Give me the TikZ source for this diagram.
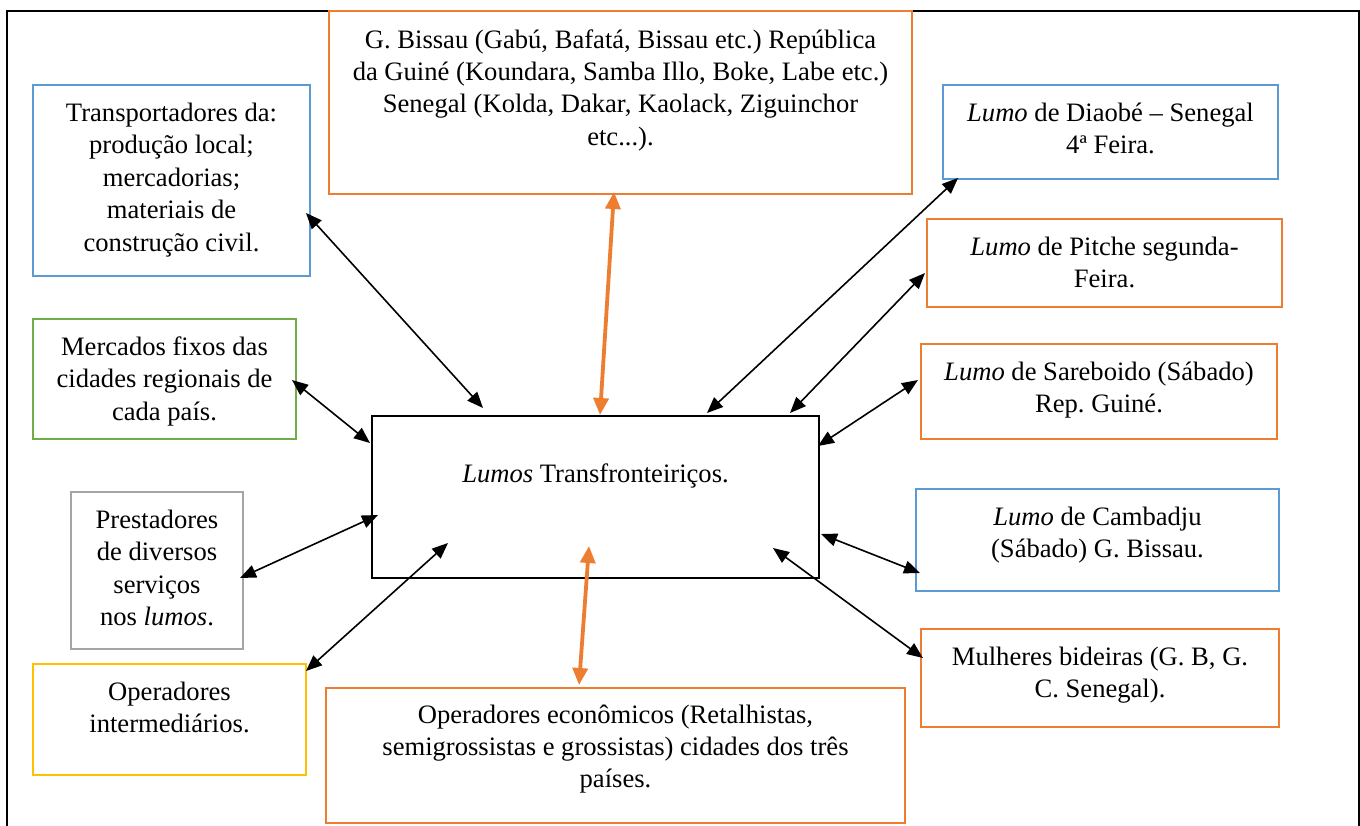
\documentclass[tikz,border=0pt]{standalone}
\usepackage{fontspec}
\setmainfont{Liberation Serif}
\usetikzlibrary{arrows.meta}

\definecolor{officeBlue}{HTML}{5B9BD5}
\definecolor{officeOrange}{HTML}{ED7D31}
\definecolor{officeGreen}{HTML}{70AD47}
\definecolor{officeGray}{HTML}{A5A5A5}
\definecolor{officeGold}{HTML}{FFC000}

% fixed-size cell: width, height, first-baseline depth, text (top aligned, centred)
\newcommand{\cellText}[4]{\parbox[c][#2][t]{#1}{\centering\rule{0pt}{#3}#4\par}}

\tikzset{
  cell/.style={draw=#1, line width=2.2pt, inner sep=0pt, outer sep=0pt,
    anchor=north west, font=\fontsize{26.6}{32.4}\selectfont\frenchspacing},
  hub/.style={cell=black, line width=1.8pt},
  tip/.tip={Triangle[length=16pt,width=13pt]},
  otip/.tip={Triangle[length=17pt,width=15pt]},
  link/.style={tip-tip, line width=1.6pt, draw=black},
  olink/.style={otip-otip, line width=3.8pt, draw=officeOrange},
}

\begin{document}
\begin{tikzpicture}[x=1pt, y=-1pt]
\useasboundingbox (0,0) rectangle (1360,825);

% outer frame (runs past the lower edge)
\draw[line width=1.8pt] (7,830) -- (7,11) -- (1359,11) -- (1359,830);

% central box
\node[hub] (ctr) at (372,416)
  {\cellText{447pt}{162pt}{66pt}{\textit{Lumos} Transfronteiriços.}};

% left column
\node[cell=officeBlue] (trans) at (33,85)
  {\cellText{277pt}{191pt}{36.5pt}{Transportadores da:\\ produção local;\\ mercadorias;\\ materiais de\\ construção civil.}};
\node[cell=officeGreen] (merc) at (33,319)
  {\cellText{263pt}{120pt}{36.5pt}{Mercados fixos das\\ cidades regionais de\\ cada país.}};
\node[cell=officeGray] (prest) at (71,492)
  {\cellText{172pt}{157pt}{36.5pt}{Prestadores\\ de diversos\\ serviços\\ nos \textit{lumos}.}};
\node[cell=officeGold] (opint) at (33,664)
  {\cellText{273pt}{111pt}{36.5pt}{Operadores\\ intermediários.}};

% top and bottom
\node[cell=officeOrange] (gbiss) at (329,11)
  {\cellText{583pt}{183pt}{37pt}{G. Bissau (Gabú, Bafatá, Bissau etc.) República\\ da Guiné (Koundara, Samba Illo, Boke, Labe etc.)\\ Senegal (Kolda, Dakar, Kaolack, Ziguinchor\\ etc...).}};
\node[cell=officeOrange] (opecon) at (326,688)
  {\cellText{579pt}{135pt}{35pt}{Operadores econômicos (Retalhistas,\\ semigrossistas e grossistas) cidades dos três\\ países.}};

% right column
\node[cell=officeBlue] (diaobe) at (943,85)
  {\cellText{335pt}{94pt}{36.5pt}{\textit{Lumo} de Diaobé – Senegal\\ 4ª Feira.}};
\node[cell=officeOrange] (pitche) at (927,219)
  {\cellText{355pt}{88pt}{36.5pt}{\textit{Lumo} de Pitche segunda-\\ Feira.}};
\node[cell=officeOrange] (sare) at (921,344)
  {\cellText{356pt}{95pt}{36.5pt}{\textit{Lumo} de Sareboido (Sábado)\\ Rep. Guiné.}};
\node[cell=officeBlue] (camb) at (916,489)
  {\cellText{363pt}{102pt}{36.5pt}{\textit{Lumo} de Cambadju\\ (Sábado) G. Bissau.}};
\node[cell=officeOrange] (mulh) at (921,629)
  {\cellText{358pt}{98pt}{36.5pt}{Mulheres bideiras (G. B, G.\\ C. Senegal).}};

% connectors
\draw[link] ([shift={(-4,-63)}]trans.south east) -- ([shift={(111,-8)}]ctr.north west);
\draw[olink] ([shift={(-6.5,-2)}]gbiss.south) -- ([shift={(4.5,-1)}]ctr.north);
\draw[link] ([shift={(15,-1)}]diaobe.south west) -- ([shift={(111.5,-3)}]ctr.north);
\draw[link] ([shift={(-2,-34)}]pitche.south west) -- ([shift={(-29,-3)}]ctr.north east);
\draw[link] ([shift={(-3,-11.5)}]sare.west) -- ([shift={(-1,30)}]ctr.north east);
\draw[link] ([shift={(4,-18)}]camb.south west) -- ([shift={(2,-44)}]ctr.south east);
\draw[link] ([shift={(2,29)}]mulh.north west) -- ([shift={(-46,-30)}]ctr.south east);
\draw[link] ([shift={(-4,1)}]merc.east) -- ([shift={(-2,27)}]ctr.north west);
\draw[link] ([shift={(-3,7.5)}]prest.east) -- ([shift={(6,18)}]ctr.west);
\draw[link] ([shift={(0,7)}]opint.north east) -- ([shift={(76,-35)}]ctr.south west);
\draw[olink] ([shift={(-36.5,-3)}]opecon.north) -- ([shift={(-6.5,-32)}]ctr.south);
\end{tikzpicture}
\end{document}
